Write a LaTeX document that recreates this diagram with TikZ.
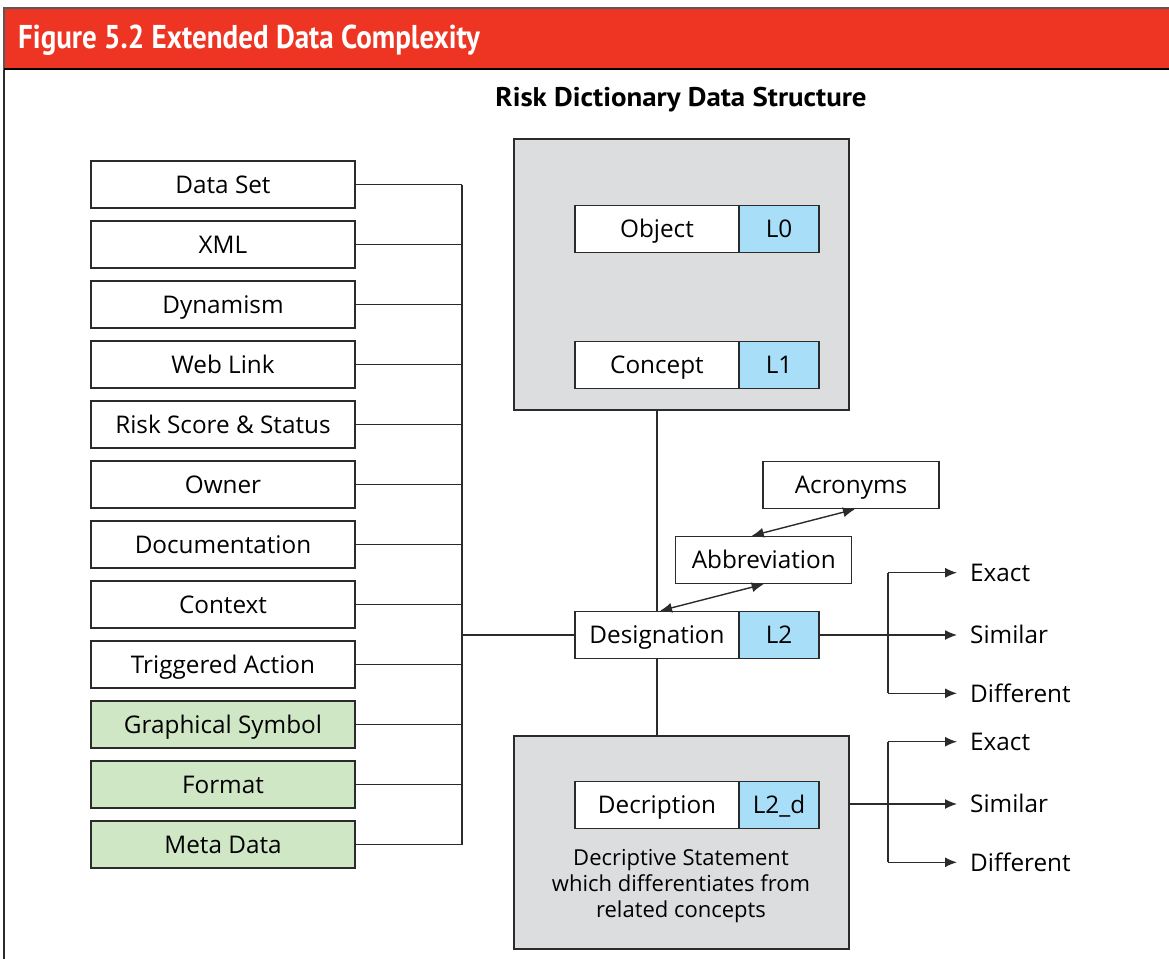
\documentclass[tikz,border=0pt]{standalone}
\usepackage{fontspec}
\setmainfont{Open Sans}
\newfontfamily\boldf{PT Sans}
\usetikzlibrary{arrows.meta,calc}
\definecolor{hdrred}{HTML}{EE3524}
\definecolor{lblue}{HTML}{A8DEF7}
\definecolor{lgreen}{HTML}{D0E7C6}
\definecolor{pgray}{HTML}{DCDDDF}
\definecolor{lc}{HTML}{2B2B2B}
\newcommand{\bodyf}{\fontsize{24.3}{29}\selectfont}
\newcommand{\smallf}{\fontsize{22}{26}\selectfont}
\tikzset{
  bx/.style={draw=lc, line width=1.4pt, inner sep=0pt, align=center, font=\bodyf, text=black, text height=17.5pt, text depth=0pt},
  side/.style={bx, fill=white, minimum width=264pt, minimum height=47pt},
  gside/.style={side, fill=lgreen},
  nm/.style={bx, fill=white, minimum width=164pt, minimum height=47pt},
  lv/.style={bx, fill=lblue, minimum width=80pt, minimum height=47pt},
  panel/.style={draw=lc, line width=1.4pt, fill=pgray, inner sep=0pt},
  conn/.style={draw=lc, line width=1.4pt},
  arr/.style={conn, -{Latex[length=12pt,width=10pt]}},
  darr/.style={conn, {Latex[length=12pt,width=10pt]}-{Latex[length=12pt,width=10pt]}},
  lab/.style={font=\bodyf, inner xsep=13pt, inner ysep=0pt, anchor=west, text=black, text height=17.5pt, text depth=0pt},
}
\begin{document}
\begin{tikzpicture}[x=1pt,y=-1pt]
\useasboundingbox (0,0) rectangle (1169,958);
\clip (0,0) rectangle (1169,958);
% frame and header
\draw[lc, line width=1.6pt] (4,8) -- (4,970);
\path[fill=hdrred, draw=gray!70!black, line width=1.2pt] (4,8) rectangle (1180,69);
\draw[black, line width=1.8pt] (4,69) -- (1180,69);
\node[anchor=west, inner sep=0pt, text=white, font=\boldf\bfseries\fontsize{33}{38}\selectfont] (hdr) at (18,40) {\scalebox{0.88}[1]{Figure 5.2 Extended Data Complexity}};
\node[inner sep=0pt, font=\boldf\bfseries\fontsize{27}{32}\selectfont] (ttl) at (681,100) {\scalebox{1.07}[1]{Risk Dictionary Data Structure}};

% left boxes
\node[side]  (b1)  at (223,184.5) {Data Set};
\node[side]  (b2)  at (223,244.5) {XML};
\node[side]  (b3)  at (223,304.5) {Dynamism};
\node[side]  (b4)  at (223,364.5) {Web Link};
\node[side]  (b5)  at (223,424.5) {Risk Score \& Status};
\node[side]  (b6)  at (223,484.5) {Owner};
\node[side]  (b7)  at (223,544.5) {Documentation};
\node[side]  (b8)  at (223,604.5) {Context};
\node[side]  (b9)  at (223,664.5) {Triggered Action};
\node[gside] (b10) at (223,724.5) {Graphical Symbol};
\node[gside] (b11) at (223,784.5) {Format};
\node[gside] (b12) at (223,844.5) {Meta Data};
\coordinate (bus) at (462,0);
\foreach \i in {1,...,12} {\draw[conn] (b\i.east) -- (b\i.east -| bus);}
\draw[conn] (b1.east -| bus) -- (b12.east -| bus);

% panels
\node[panel, minimum width=335pt, minimum height=271pt] (p1) at (681.5,274.5) {};
\node[panel, minimum width=335pt, minimum height=213pt] (p2) at (681.5,842.5) {};

\node[nm] (obj) at (657,229) {Object};
\node[lv] (l0)  at (779,229) {L0};
\node[nm] (con) at (657,365) {Concept};
\node[lv] (l1)  at (779,365) {L1};
\node[nm] (des) at (657,635) {Designation};
\node[lv] (l2)  at (779,635) {L2};
\node[nm] (dsc) at (657,805) {Decription};
\node[lv] (l2d) at (779,805) {L2\_d};
\node[align=center, inner sep=0pt, font=\smallf] (stm) at (681,886) {Decriptive Statement\\which differentiates from\\related concepts};

\node[bx, fill=white, minimum width=176pt, minimum height=47pt] (abr) at (763.7,560) {Abbreviation};
\node[bx, fill=white, minimum width=176pt, minimum height=47pt] (acr) at (851,485) {Acronyms};

% vertical spine
\draw[conn] (p1.south -| des.north) -- (des.north);
\draw[conn] (des.south) -- (des.south |- p2.north);
\draw[conn] (bus |- des.west) -- (des.west);

% double arrows
\draw[darr] ([xshift=3pt]des.north) -- (abr.south);
\draw[darr] ([xshift=-12pt]abr.north) -- ([xshift=4pt]acr.south);

% right branches (designation)
\coordinate (br) at (888,0);
\node[lab] (e1) at (957,572.7) {Exact};
\node[lab] (s1) at (957,635) {Similar};
\node[lab] (d1) at (957,693.3) {Different};
\draw[conn] (l2.east) -- (l2.east -| br);
\draw[conn] (e1.west -| br) -- (d1.west -| br);
\draw[arr] (e1.west -| br) -- (e1.west);
\draw[arr] (s1.west -| br) -- (s1.west);
\draw[arr] (d1.west -| br) -- (d1.west);

% right branches (description)
\node[lab] (e2) at (957,741.7) {Exact};
\node[lab] (s2) at (957,804) {Similar};
\node[lab] (d2) at (957,862.3) {Different};
\draw[conn] (p2.east |- s2.west) -- (s2.west -| br);
\draw[conn] (e2.west -| br) -- (d2.west -| br);
\draw[arr] (e2.west -| br) -- (e2.west);
\draw[arr] (s2.west -| br) -- (s2.west);
\draw[arr] (d2.west -| br) -- (d2.west);
\end{tikzpicture}
\end{document}
